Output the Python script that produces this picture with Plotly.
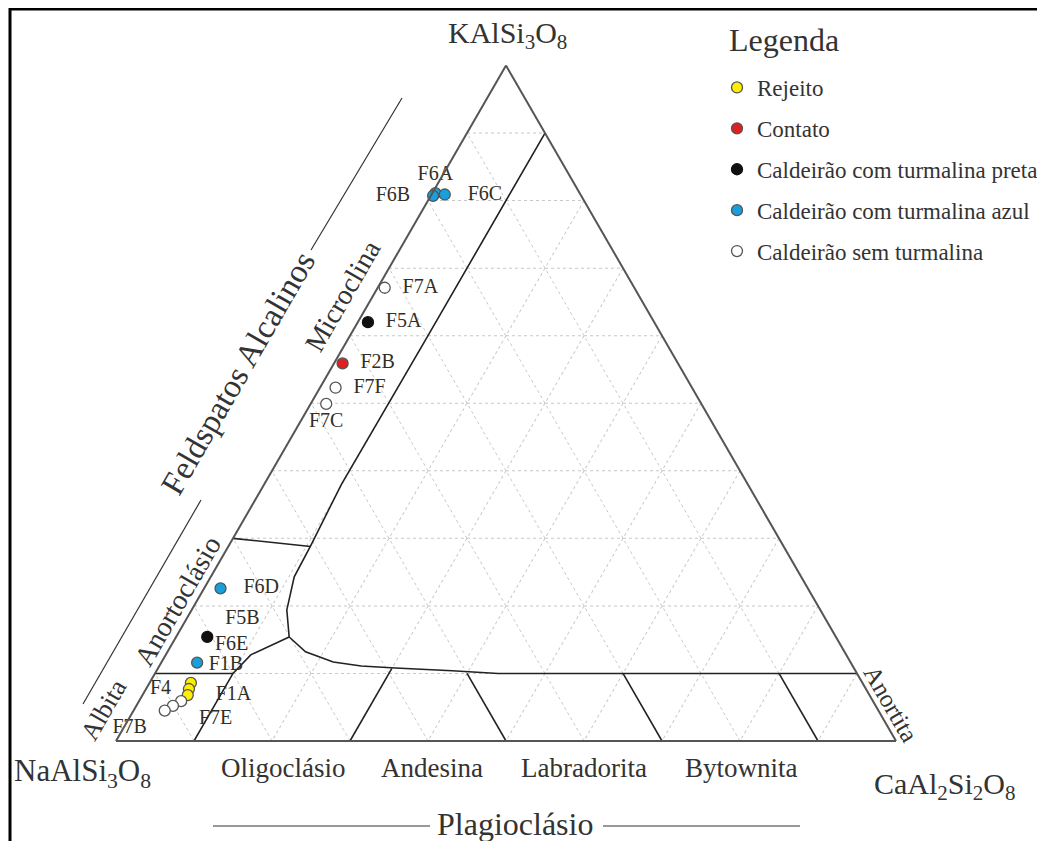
import plotly.graph_objects as go

OFF = 8  # margem padrão do <body> na página
W, H = 1045 - OFF, 841 - OFF
SERIF = "Liberation Serif"

# ---- amostras: Or = KAlSi3O8, An = CaAl2Si2O8 (fração), Ab = 1 - Or - An
rejeito_nomes = ["F1B", "F4", "F1A"]
rejeito_or = [0.086, 0.077, 0.068]
rejeito_an = [0.053, 0.055, 0.058]

contato_nomes = ["F2B"]
contato_or = [0.559]
contato_an = [0.011]

preta_nomes = ["F5A", "F5B"]
preta_or = [0.620, 0.154]
preta_an = [0.013, 0.040]

azul_nomes = ["F6A", "F6B", "F6C", "F6D", "F6E"]
azul_or = [0.811, 0.807, 0.809, 0.226, 0.116]
azul_an = [0.004, 0.003, 0.017, 0.021, 0.046]

sem_nomes = ["F7A", "F7F", "F7C", "F7E", "", "F7B"]
sem_or = [0.671, 0.523, 0.499, 0.059, 0.052, 0.045]
sem_an = [0.009, 0.020, 0.020, 0.054, 0.047, 0.040]

# ---- limites dos campos (Or, An)
solvus_or = [0.90, 0.60, 0.38, 0.29, 0.243, 0.194, 0.154, 0.132, 0.117, 0.111, 0.108, 0.104, 0.100, 0.100]
solvus_an = [0.10, 0.10, 0.099, 0.105, 0.107, 0.122, 0.145, 0.177, 0.220, 0.259, 0.304, 0.379, 0.44, 0.90]

albita_or = [0.0, 0.1, 0.1275, 0.154]
albita_an = [0.1, 0.1, 0.109, 0.145]

or10_or = [0.1, 0.1]
or10_an = [0.0, 0.1]

anortoclasio_or = [0.30, 0.288]
anortoclasio_an = [0.0, 0.1055]

div_base_an = [0.3, 0.5, 0.7, 0.9]
div_topo_or = [0.107, 0.1, 0.1, 0.1]
div_topo_an = [0.3, 0.4, 0.6, 0.8]

plagio_nomes = ["Oligoclásio", "Andesina", "Labradorita", "Bytownita"]


def ab(o, a):
    return [1 - x - y for x, y in zip(o, a)]


def px(x):
    return (x - OFF) / W


def py(y):
    return 1 - (y - OFF) / H


fig = go.Figure()

line_style = dict(color="#222222", width=1.6)


def linha(o, a):
    fig.add_trace(go.Scatterternary(a=o, b=ab(o, a), c=a, mode="lines", line=line_style,
                                    showlegend=False, hoverinfo="skip"))


linha(solvus_or, solvus_an)
linha(albita_or, albita_an)
linha(or10_or, or10_an)
linha(anortoclasio_or, anortoclasio_an)
for an0, o1, an1 in zip(div_base_an, div_topo_or, div_topo_an):
    linha([0.0, o1], [an0, an1])

NB = "\u00a0"
grupos = [
    ("Rejeito", rejeito_nomes, rejeito_or, rejeito_an, "#ffee00", "#555555",
     ["top right", "middle left", "middle right"]),
    ("Contato", contato_nomes, contato_or, contato_an, "#e02020", "#555555",
     ["middle right"]),
    ("Caldeirão com turmalina preta", preta_nomes, preta_or, preta_an, "#111111", "#111111",
     ["middle right", "top right"]),
    ("Caldeirão com turmalina azul", azul_nomes, azul_or, azul_an, "#1a9fdc", "#555555",
     ["top center", "middle left", "middle right", "middle right", "top right"]),
    ("Caldeirão sem turmalina", sem_nomes, sem_or, sem_an, "#ffffff", "#555555",
     ["middle right", "middle right", "bottom center", "bottom right", "middle right", "bottom left"]),
]
espaco = {"F6D": 3, "F6B": 3, "F6C": 3, "F1A": 4, "F1B": 2}

for i, (nome, rot, o, a, cor, borda, pos) in enumerate(grupos):
    txt = []
    for r, p in zip(rot, pos):
        n = espaco.get(r, 2)
        if p.endswith("right"):
            txt.append(NB * n + r)
        elif p.endswith("left"):
            txt.append(r + NB * n)
        else:
            txt.append(r)
    # rótulos das amostras
    fig.add_trace(go.Scatterternary(a=o, b=ab(o, a), c=a, mode="markers+text", text=txt,
                                    textposition=pos, cliponaxis=False,
                                    textfont=dict(family=SERIF, size=20, color="#332e24"),
                                    marker=dict(size=11, opacity=0),
                                    showlegend=False, hoverinfo="skip"))
    fig.add_trace(go.Scatterternary(a=o, b=ab(o, a), c=a, mode="markers", name=nome,
                                    legendgroup=f"g{i}", cliponaxis=False,
                                    marker=dict(size=11, color=cor, line=dict(color=borda, width=1.3))))

axis = dict(showticklabels=False, ticks="", showgrid=True, gridcolor="#c8c8c8", griddash="dot",
            gridwidth=1, linecolor="#555555", linewidth=2, tickmode="linear", tick0=0, dtick=0.1,
            title=dict(text=""), min=0)

fig.update_layout(
    width=W, height=H,
    margin=dict(l=0, r=0, t=0, b=0),
    paper_bgcolor="white",
    showlegend=True,
    ternary=dict(sum=1, bgcolor="white",
                 domain=dict(x=[px(116), px(896)], y=[py(741), py(65.5)]),
                 aaxis=axis, baxis=axis, caxis=axis),
    legend=dict(x=px(717), y=py(66), xanchor="left", yanchor="top",
                font=dict(family=SERIF, size=23, color="#333333"),
                traceorder="grouped", tracegroupgap=8, bgcolor="rgba(0,0,0,0)"),
)

ann = []


def texto(t, x, y, size, ang=0, **kw):
    ann.append(dict(text=t, x=px(x), y=py(y), xref="paper", yref="paper", showarrow=False,
                    textangle=ang, font=dict(family=SERIF, size=size, color="#333333"),
                    xanchor="center", yanchor="middle", **kw))


texto("Legenda", 784, 40, 32)
texto("KAlSi<sub>3</sub>O<sub>8</sub>", 507, 35, 30)
texto("NaAlSi<sub>3</sub>O<sub>8</sub>", 82, 773, 31)
texto("CaAl<sub>2</sub>Si<sub>2</sub>O<sub>8</sub>", 945, 786, 30)
texto("Feldspatos Alcalinos", 238, 373, 33, -60)
texto("Microclina", 342, 296, 28, -60)
texto("Anortoclásio", 177, 601, 28, -60)
texto("Albita", 103, 710, 26, -60)
texto("Anortita", 891, 703, 25, 60)
for nome, xx in zip(plagio_nomes, [283, 432, 584, 741]):
    texto(nome, xx, 768, 27)
texto("Plagioclásio", 515, 824, 32)

fig.update_layout(annotations=ann)

seg = dict(color="#333333", width=1.2)
shapes = [
    dict(type="rect", xref="paper", yref="paper", x0=px(10), y0=py(9), x1=px(1041), y1=-0.05,
         line=dict(color="black", width=3)),
    dict(type="line", xref="paper", yref="paper", x0=px(83), y0=py(704), x1=px(201), y1=py(500), line=seg),
    dict(type="line", xref="paper", yref="paper", x0=px(311), y0=py(250), x1=px(402), y1=py(98), line=seg),
    dict(type="line", xref="paper", yref="paper", x0=px(213), y0=py(826), x1=px(430), y1=py(826), line=seg),
    dict(type="line", xref="paper", yref="paper", x0=px(603), y0=py(826), x1=px(800), y1=py(826), line=seg),
]
fig.update_layout(shapes=shapes)

fig.write_html("out.html")
